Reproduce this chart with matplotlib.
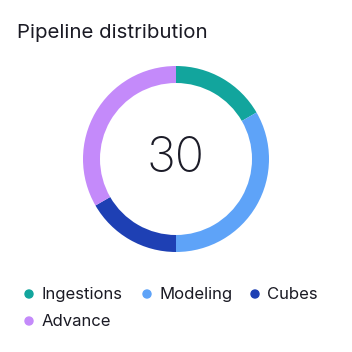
import matplotlib.pyplot as plt

# данные
labels = ['Ingestions', 'Modeling', 'Cubes', 'Advance']
values = [5, 10, 5, 10]
colors = ['#12a59d', '#5ea3f8', '#1e40b4', '#c48afa']
title = 'Pipeline distribution'

plt.rcParams['font.family'] = ['Inter', 'DejaVu Sans']

W = H = 352
fig = plt.figure(figsize=(W / 100, H / 100), dpi=100)
fig.patch.set_facecolor('white')

# кольцо
cx, cy, r = 176, 159, 93
ax = fig.add_axes([(cx - r) / W, 1 - (cy + r) / H, 2 * r / W, 2 * r / H])
ax.pie(values, colors=colors, startangle=90, counterclock=False, radius=1,
       wedgeprops=dict(width=17 / r, linewidth=0))
ax.set_xlim(-1, 1)
ax.set_ylim(-1, 1)
ax.set_aspect('equal')
ax.axis('off')
ax.text(0, 0, str(sum(values)), ha='center', va='center', fontsize=35,
        fontweight='light', color='#1c1c28')

# заголовок
fig.text(17 / W, 1 - 38 / H, title, fontsize=14.7, color='#1a1a24',
         ha='left', va='baseline')

# легенда
legend_pos = [(29, 294), (147, 294), (255, 294), (29, 321)]
for (lx, ly), lab, col in zip(legend_pos, labels, colors):
    fig.patches.append(plt.Circle((lx / W, 1 - ly / H), 4 / W, color=col,
                                  transform=fig.transFigure, figure=fig))
    fig.text((lx + 12.5) / W, 1 - (ly + 0.5) / H, lab, fontsize=12,
             color='#1a1a24', ha='left', va='center')

fig.savefig('out.png', dpi=100)
